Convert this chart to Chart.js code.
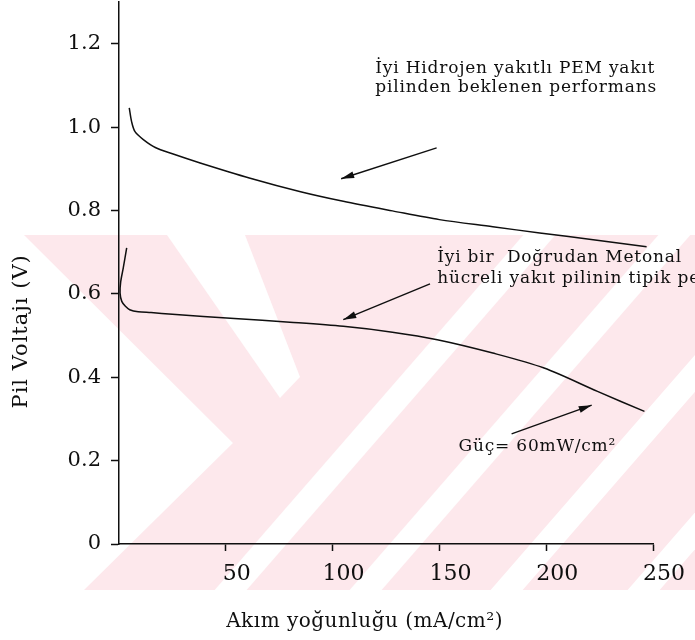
<!DOCTYPE html>
<html lang="tr">
<head>
<meta charset="utf-8">
<title>Pil voltajı – akım yoğunluğu</title>
<script src="https://cdn.jsdelivr.net/npm/chart.js@4.4.1/dist/chart.umd.min.js"></script>
<style>
    html, body { margin: 0; padding: 0; background: #fff; }
    canvas { display: block; }
</style>
</head>
<body>
<canvas id="pilChart" width="695" height="640"></canvas>
<script>
// Hidrojen yakıtlı PEM pili (akım mA/cm², voltaj V)
const h2Current = [4.8, 5.9, 7.5, 11.4, 17, 25, 38, 61, 85, 105, 128, 150, 175, 197, 222, 247];
const h2Voltage = [1.046, 1.013, 0.989, 0.970, 0.951, 0.936, 0.914, 0.878, 0.845, 0.822, 0.799, 0.778, 0.761, 0.746, 0.730, 0.713];

// Doğrudan metanol pili
const dmfcCurrent = [3.6, 2.0, 0.8, 0.5, 1.3, 3.0, 5.0, 9.0, 15, 25, 54, 80, 105, 128, 149, 175, 199, 224, 246];
const dmfcVoltage = [0.710, 0.662, 0.629, 0.602, 0.582, 0.570, 0.562, 0.557, 0.555, 0.551, 0.541, 0.532, 0.522, 0.508, 0.490, 0.458, 0.422, 0.366, 0.318];

const xTicks = [50, 100, 150, 200, 250];
const yTicks = [0, 0.2, 0.4, 0.6, 0.8, 1.0, 1.2];

const ink = '#0f0f0f';
const serif = '"DejaVu Serif", "Liberation Serif", serif';

// notes and arrows, placed in axis units
const notes = [
    { x: 120, y: 1.140, text: 'İyi Hidrojen yakıtlı PEM yakıt' },
    { x: 120, y: 1.094, text: 'pilinden beklenen performans' },
    { x: 149, y: 0.686, text: 'İyi bir  Doğrudan Metonal' },
    { x: 149, y: 0.636, text: 'hücreli yakıt pilinin tipik performansı' },
    { x: 159, y: 0.233, text: 'Güç= 60mW/cm²' },
];
const arrows = [
    { from: [148.7, 0.950], to: [104, 0.876] },
    { from: [145.6, 0.624], to: [105, 0.538] },
    { from: [183.8, 0.264], to: [221.3, 0.333] },
];

// pale background stamp behind the plot
const stampColor = '#fde8ec';
const stampShape = [[24, 235], [695, 235], [695, 590], [84, 590], [233, 443]];
const stampGaps = [[[167, 235], [245, 235], [300, 377], [280, 398]]];
[335, 470, 611, 748].forEach((c) => {
    const top = c + 235 / 1.15;
    const bot = c - 120 / 1.15;
    stampGaps.push([[top - 16, 235], [top + 16, 235], [bot + 16, 590], [bot - 16, 590]]);
});

function fillPoly(ctx, pts, color) {
    ctx.beginPath();
    pts.forEach(([px, py], i) => (i ? ctx.lineTo(px, py) : ctx.moveTo(px, py)));
    ctx.closePath();
    ctx.fillStyle = color;
    ctx.fill();
}

const stampPlugin = {
    id: 'stamp',
    beforeDraw(chart) {
        const { ctx, width, height } = chart;
        ctx.save();
        ctx.fillStyle = '#fff';
        ctx.fillRect(0, 0, width, height);
        fillPoly(ctx, stampShape, stampColor);
        stampGaps.forEach((g) => fillPoly(ctx, g, '#fff'));
        ctx.restore();
    },
};

const notesPlugin = {
    id: 'notes',
    afterDraw(chart) {
        const { ctx, scales: { x, y } } = chart;
        ctx.save();
        ctx.fillStyle = ink;
        ctx.strokeStyle = ink;
        ctx.textBaseline = 'middle';
        ctx.textAlign = 'left';
        ctx.letterSpacing = '0.8px';
        ctx.font = `17px ${serif}`;

        notes.forEach((n) => {
            ctx.fillText(n.text, x.getPixelForValue(n.x), y.getPixelForValue(n.y));
        });

        arrows.forEach((a) => {
            const x0 = x.getPixelForValue(a.from[0]);
            const y0 = y.getPixelForValue(a.from[1]);
            const x1 = x.getPixelForValue(a.to[0]);
            const y1 = y.getPixelForValue(a.to[1]);
            const ang = Math.atan2(y1 - y0, x1 - x0);
            ctx.lineWidth = 1.4;
            ctx.beginPath();
            ctx.moveTo(x0, y0);
            ctx.lineTo(x1, y1);
            ctx.stroke();
            ctx.beginPath();
            ctx.moveTo(x1, y1);
            ctx.lineTo(x1 - 13 * Math.cos(ang) + 3.5 * Math.sin(ang), y1 - 13 * Math.sin(ang) - 3.5 * Math.cos(ang));
            ctx.lineTo(x1 - 13 * Math.cos(ang) - 3.5 * Math.sin(ang), y1 - 13 * Math.sin(ang) + 3.5 * Math.cos(ang));
            ctx.closePath();
            ctx.fill();
        });

        // axis titles
        ctx.textAlign = 'center';
        ctx.letterSpacing = '0.5px';
        ctx.font = `20px ${serif}`;
        ctx.fillText('Akım yoğunluğu (mA/cm²)', x.getPixelForValue(115), 622);

        ctx.letterSpacing = '1px';
        ctx.font = `21px ${serif}`;
        ctx.translate(22, y.getPixelForValue(0.51));
        ctx.rotate(-Math.PI / 2);
        ctx.fillText('Pil Voltajı (V)', 0, 0);
        ctx.restore();
    },
};

const toPoints = (xs, ys) => xs.map((v, i) => ({ x: v, y: ys[i] }));

new Chart(document.getElementById('pilChart'), {
    type: 'scatter',
    data: {
        datasets: [
            {
                label: 'Hidrojen PEM',
                data: toPoints(h2Current, h2Voltage),
                showLine: true,
                borderColor: ink,
                borderWidth: 1.5,
                pointRadius: 0,
                tension: 0.3,
            },
            {
                label: 'Doğrudan metanol',
                data: toPoints(dmfcCurrent, dmfcVoltage),
                showLine: true,
                borderColor: ink,
                borderWidth: 1.5,
                pointRadius: 0,
                tension: 0.3,
            },
        ],
    },
    options: {
        responsive: false,
        animation: false,
        layout: {
            padding: { top: 2, right: 42, left: 0, bottom: 0 },
        },
        plugins: {
            legend: { display: false },
            tooltip: { enabled: false },
        },
        scales: {
            x: {
                type: 'linear',
                min: 0,
                max: 250,
                afterBuildTicks: (scale) => {
                    scale.ticks = xTicks.map((v) => ({ value: v }));
                },
                afterFit: (scale) => {
                    scale.height = 96;
                    scale.paddingLeft = 0;
                    scale.paddingRight = 0;
                },
                border: { color: ink, width: 1.5 },
                grid: {
                    drawOnChartArea: false,
                    tickLength: 7,
                    tickWidth: 1.5,
                    tickColor: ink,
                },
                ticks: {
                    color: ink,
                    font: { family: serif, size: 22 },
                    padding: 10,
                    labelOffset: 11,
                    maxRotation: 0,
                    autoSkip: false,
                },
            },
            y: {
                min: 0,
                max: 1.3,
                afterBuildTicks: (scale) => {
                    scale.ticks = yTicks.map((v) => ({ value: v }));
                },
                afterFit: (scale) => {
                    scale.width = 119;
                    scale.paddingTop = 0;
                    scale.paddingBottom = 0;
                },
                border: { color: ink, width: 1.5 },
                grid: {
                    drawOnChartArea: false,
                    tickLength: 8,
                    tickWidth: 1.5,
                    tickColor: ink,
                },
                ticks: {
                    color: ink,
                    font: { family: serif, size: 21 },
                    padding: 10,
                    callback: (value) => (value === 0 ? '0' : value.toFixed(1)),
                },
            },
        },
    },
    plugins: [stampPlugin, notesPlugin],
});
</script>
</body>
</html>
